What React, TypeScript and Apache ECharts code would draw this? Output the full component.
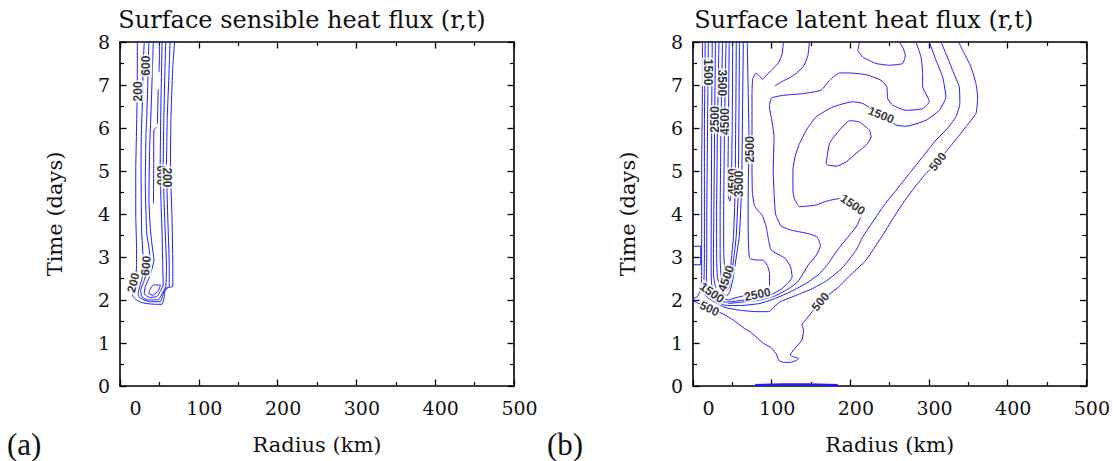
import React, { useEffect, useRef } from "react";
import * as echarts from "echarts";

// ---------- Axis ticks ----------
const xTicks = [0, 100, 200, 300, 400, 500];
const yTicks = [0, 1, 2, 3, 4, 5, 6, 7, 8];

// ---------- Panel (a): surface sensible heat flux contours [r (km), t (days)] ----------
const a200 = [[22,8],[22,7.5],[22,7],[21,6],[20,5],[20,4],[21,3.2],[21,2.8],[19,2.4],[16,2.1],[19.5,2.02],[26,1.95],[33,1.92],[45,1.9],[53.4,1.9],[55.7,2.04],[58,2.27],[67,2.32],[67,2.77],[66,3.93],[64,5.1],[64.7,6.26],[67,7.42],[69.3,8]];
const a400 = [[30.8,8],[29.5,7.5],[28.5,6.65],[27,5.8],[26.7,5.1],[27,4.3],[27.6,3.55],[29.9,2.77],[28,2.5],[24.9,2.31],[23,2.15],[25,2.06],[28.5,2.02],[37.6,1.96],[51,1.96],[53.4,2.05],[55.7,2.19],[60,2.27],[62.5,2.32],[62.5,2.77],[60.6,3.93],[59,5.1],[60,6.26],[62.5,7.42],[63.5,8]];
const a600 = [[36.7,8],[35.8,7.5],[35.3,7.03],[34,6.3],[33,5.87],[32.1,4.71],[33,4.0],[33.9,3.55],[37.6,3.08],[35,2.75],[30.8,2.46],[26.3,2.23],[27.6,2.08],[35.3,2.0],[48.9,2.01],[53.4,2.15],[58,2.31],[59,2.77],[56.6,3.93],[54.8,5.1],[55.7,6.26],[57.1,7.42],[58,8]];
const a800 = [[42.2,8],[41,7.3],[39.9,6.65],[37.6,5.5],[36.7,4.32],[38,3.8],[39.9,3.39],[43,2.93],[37.6,2.54],[32,2.31],[30.8,2.15],[33,2.1],[37.6,2.06],[46.6,2.08],[52,2.23],[54.8,2.35],[54,3],[53.4,3.55],[52,4.3],[51,5.1],[51.5,6],[52,6.65],[53.4,8]];
const a1000Core = [[37.6,2.23],[42.2,2.35],[51.3,2.35],[49,2.23],[42.2,2.11],[36.7,2.15],[37.6,2.23]];
const a1000Top = [[50,8],[50,7.6],[49.5,7.3]];
const a1000Mid = [[48.5,6.9],[48,6.5],[47.5,6.1]];
const a1000Low = [[46,6.02],[43,5.95],[42.8,5.2],[42.5,4.25]];

// contour labels: [r, t, text, angle]
const aLabels = [
  [22.5, 6.85, "200", 90],
  [33.3, 7.45, "600", 90],
  [52.5, 4.9, "600", -90],
  [59.5, 4.85, "200", -90],
  [17, 2.4, "200", 75],
  [33, 2.8, "600", 85],
];

// ---------- Panel (b): surface latent heat flux contours ----------
const b500Left = [[12,8],[12,7],[11.5,6],[11,5],[11,4],[11,3.4],[11,2.5],[9,2.2],[5,2.07],[0,2.03]];
const b500 = [[0,1.98],[6,1.93],[14,1.86],[21,1.8],[30,1.73],[36.8,1.69],[51.7,1.53],[63.6,1.36],[72.8,1.26],[89.7,0.99],[100.3,0.88],[106.6,0.72],[108.8,0.6],[115,0.55],[123.6,0.55],[132,0.6],[134,0.64],[127.8,0.68],[123.6,0.72],[127.8,0.84],[138.4,1.07],[140.5,1.3],[138.4,1.42],[144.7,1.57],[153.2,1.77],[161.6,1.96],[174.3,2.15],[185,2.3],[197.9,2.54],[210,2.75],[220,2.93],[230,3.2],[242.6,3.55],[256,3.95],[269.5,4.32],[283,4.65],[296,4.94],[311,5.2],[323,5.48],[335,5.75],[347,6.03],[359.7,6.34],[361.8,6.72],[359.7,7.03],[353.3,7.42],[342.7,7.81],[337.6,8]];
const b1000 = [[15.5,8],[15,7],[14.5,6],[14.5,5],[14.5,4],[14.5,3],[14,2.5],[13,2.25],[16,2.1],[25,1.98],[35,1.88],[42,1.82],[60,1.76],[80,1.73],[97,1.73],[101,1.8],[110,1.95],[130,2.1],[150,2.25],[170,2.45],[190,2.75],[207.3,3.16],[215.8,3.47],[224.2,3.7],[241.2,4.16],[258,4.55],[275,4.94],[291.9,5.33],[308.8,5.72],[321.5,5.95],[334.2,6.26],[339.2,6.57],[338.4,6.96],[330,7.34],[321.5,7.73],[315.2,8]];
const b1500 = [[19.5,8],[19,7],[18.5,6],[18,5],[17.5,4],[17.5,3],[17,2.5],[17,2.3],[20,2.12],[28,2],[40,1.88],[60,1.87],[85,1.92],[105,2.04],[125,2.2],[145,2.4],[160,2.6],[172,2.85],[182,3.12],[190.4,3.32],[207.3,3.7],[213.6,3.97],[208,4.12],[203,4.2],[186.2,4.36],[170,4.3],[156.6,4.21],[135.4,4.17],[129,4.35],[127,4.55],[127,5.02],[130,5.35],[135.4,5.64],[145,5.98],[156.6,6.26],[177.7,6.49],[203,6.61],[215.8,6.57],[239,6.3],[258,6.07],[270.8,6.04],[296.2,6.18],[313,6.41],[321.5,6.72],[317.3,7.19],[308.8,7.58],[300.4,8]];
const b1500Valley = [[283.4,8],[289.8,7.65],[291.9,7.27],[291.9,6.96],[298.3,6.72],[300.4,6.61],[291.9,6.45],[270.8,6.41],[253.9,6.53],[247.5,6.68],[246.3,6.96],[239,7.11],[220,7.24],[198.9,7.28],[186.2,7.28],[173.5,7.11],[162.9,6.88],[140,6.8],[115,6.76],[100,6.7],[97,6.5],[100,6.2],[103,5.8],[102,5],[103,4.5],[105,4],[112,3.72],[126,3.62],[145,3.55],[157.6,3.47],[162,3.27],[157,3.05],[148,2.85],[140,2.62],[133,2.42],[122,2.27],[105,2.1],[85,2],[62,1.95],[45,1.92]];
const b1500Upper = [[148,8],[146,7.68],[141,7.45],[133,7.3],[124,7.18],[113,7.08],[104,6.98]];
const b2000 = [[24.5,8],[24,7],[23.5,5],[23,3],[23.5,2.4],[26,2.2],[32,2.03],[40,1.95],[48,1.96],[65,2],[85,2.05],[100,2.13],[112,2.25],[122,2.42],[126,2.54],[124,2.77],[117,2.97],[99.4,3.16],[96,3.4],[93,3.7],[88,3.97],[81.5,4.1],[78,4.2],[75.5,4.5],[75,5],[75,6],[75,6.8],[76,7.15],[80,7.27],[84,7.22],[88,7.13],[92,7.2],[100,7.35],[108,7.5],[113,7.7],[115,8]];
const b2000Loop = [[169.2,5.17],[173.5,5.64],[186.2,5.95],[198.9,6.17],[211.6,6.14],[224.2,5.95],[226.4,5.79],[220,5.6],[207.3,5.41],[194.6,5.21],[182,5.11],[171.4,5.14],[169.2,5.17]];
const b2000Top = [[211.6,8],[209.5,7.81],[215.8,7.65],[232.7,7.5],[249.6,7.46],[266.5,7.5],[269.9,7.69],[266.5,7.88],[262.3,8]];
const b2500 = [[28.5,8],[28,7],[27.5,6.2],[27,5],[26.5,4],[26,3],[26,2.6],[28,2.35],[33,2.15],[40,2.03],[45,2],[52,2.04],[65,2.1],[82,2.14],[92,2.2],[97.3,2.31],[97.3,2.62],[95,2.78],[89,2.93],[80,2.93],[72,2.97],[70.5,3.3],[70,4],[70.5,5],[71.5,5.5],[71,6],[70,7],[69,8]];
const b3000 = [[33,8],[32,7],[31,6],[30.5,5],[30,4],[30,3],[31,2.55],[34,2.3],[39,2.14],[43,2.1],[47,2.2],[51,2.5],[55,3],[59,3.5],[61.5,4.5],[62.5,5.5],[63,6.5],[64,8]];
const b3500 = [[37.5,8],[36.5,7],[35.5,6],[35,5],[34.5,4],[34.5,3],[35.5,2.6],[39,2.32],[43,2.22],[46,2.3],[49,2.6],[52,3],[55,3.5],[57.5,4.5],[58,5.5],[58.5,6.5],[59,8]];
const b4000 = [[42,8],[41,7],[40,6],[39.5,5],[39,4],[39,3.2],[40,2.8],[42.5,2.5],[45,2.45],[47,2.6],[49,3],[51.5,3.5],[53.5,4.5],[54,5.5],[54.5,6.5],[55,8]];
const b4500 = [[46,8],[45.5,7],[45,6],[44.5,5],[45,4.4],[47,4.3],[48.5,4.5],[49.5,5.5],[50,6.5],[50.5,8]];
const bBox = [[0,3.25],[9.8,3.25],[9.8,2.82],[0,2.82]];
const bFloor = [[79,0.02],[100,0.035],[130,0.04],[160,0.035],[184,0.02]];

const bLabels = [
  [19, 7.3, "1500", -90],
  [37, 7.05, "3500", -90],
  [27.5, 6.2, "2500", 90],
  [41, 6.15, "4500", 90],
  [51, 4.75, "4500", 90],
  [59, 4.7, "3500", 90],
  [72, 5.5, "2500", 90],
  [24, 2.17, "1500", -35],
  [42, 2.5, "4500", 70],
  [21, 1.8, "500", -25],
  [82, 2.13, "2500", 12],
  [162, 1.96, "500", 50],
  [203, 4.22, "1500", -35],
  [239, 6.3, "1500", -22],
  [311, 5.22, "500", 52],
];

const titles = ["Surface sensible heat flux (r,t)", "Surface latent heat flux (r,t)"];
const panelTags = ["(a)", "(b)"];

const panelALines = [a200, a400, a600, a800, a1000Core, a1000Top, a1000Mid, a1000Low];
const panelBLines = [b500Left, b500, b1000, b1500, b1500Valley, b1500Upper, b2000, b2000Loop, b2000Top, b2500, b3000, b3500, b4000, b4500];

const SERIF = "DejaVu Serif";
const TAGSERIF = "Liberation Serif";
const SANS = "Liberation Sans";
const BLUE = "#1c1cff";

function lineSeries(data: number[][], axis: number, opts: any = {}) {
  return {
    type: "line",
    xAxisIndex: axis,
    yAxisIndex: axis,
    data,
    symbol: "none",
    showSymbol: false,
    smooth: opts.smooth ?? 0.15,
    silent: true,
    z: 2,
    lineStyle: { color: BLUE, width: opts.width ?? 1 },
  };
}

function labelSeries(labels: any[], axis: number) {
  return {
    type: "scatter",
    xAxisIndex: axis,
    yAxisIndex: axis,
    symbolSize: 1,
    silent: true,
    z: 5,
    itemStyle: { color: "rgba(0,0,0,0)" },
    label: {
      show: true,
      position: "inside",
      fontFamily: SANS,
      fontSize: 12,
      fontWeight: "bold",
      color: "#000",
      backgroundColor: "#fff",
      padding: [0, 1],
    },
    labelLayout: { hideOverlap: false },
    data: labels.map(([r, t, txt, rot]) => ({
      value: [r, t],
      label: { show: true, formatter: txt, rotate: rot },
    })),
  };
}

function xAxes(grid: number, title: string, shift: number) {
  const common = {
    type: "value",
    gridIndex: grid,
    min: xTicks[0],
    max: xTicks[xTicks.length - 1],
    interval: xTicks[1] - xTicks[0],
    splitLine: { show: false },
    axisLine: { show: true, onZero: false, lineStyle: { color: "#000", width: 1.6 } },
    axisTick: { show: true, inside: true, length: 6.5, lineStyle: { color: "#000", width: 1.3 } },
    minorTick: { show: true, splitNumber: 2, length: 4, lineStyle: { color: "#000", width: 1.2 } },
  };
  return [
    {
      ...common,
      position: "bottom",
      name: "Radius (km)",
      nameLocation: "middle",
      nameGap: 48,
      nameTextStyle: { fontFamily: SERIF, fontSize: 21, color: "#111" },
      axisLabel: {
        margin: 12,
        color: "#111",
        fontFamily: SERIF,
        fontSize: 19,
        formatter: (v: number) => (v === 0 ? "{z|0}" : "{n|" + v + "}"),
        rich: {
          z: { fontFamily: SERIF, fontSize: 19, color: "#111", padding: [0, 0, 0, 31] },
          n: { fontFamily: SERIF, fontSize: 19, color: "#111", padding: [0, 0, 0, 11] },
        },
      },
    },
    {
      ...common,
      position: "top",
      axisLabel: { show: false },
      name: title,
      nameLocation: "middle",
      nameGap: 10,
      nameTextStyle: { fontFamily: SERIF, fontSize: 24, color: "#111", padding: [0, shift, 0, 0] },
    },
  ];
}

function yAxes(grid: number) {
  const common = {
    type: "value",
    gridIndex: grid,
    min: yTicks[0],
    max: yTicks[yTicks.length - 1],
    interval: yTicks[1] - yTicks[0],
    splitLine: { show: false },
    axisLine: { show: true, onZero: false, lineStyle: { color: "#000", width: 1.6 } },
    axisTick: { show: true, inside: true, length: 6.5, lineStyle: { color: "#000", width: 1.3 } },
    minorTick: { show: true, splitNumber: 2, length: 4, lineStyle: { color: "#000", width: 1.2 } },
  };
  return [
    {
      ...common,
      position: "left",
      name: "Time (days)",
      nameLocation: "middle",
      nameGap: 55,
      nameRotate: 90,
      nameTextStyle: { fontFamily: SERIF, fontSize: 21, color: "#111" },
      axisLabel: { margin: 10, color: "#111", fontFamily: SERIF, fontSize: 19 },
    },
    { ...common, position: "right", axisLabel: { show: false } },
  ];
}

function tagOpt(text: string, left: number) {
  return {
    text,
    left,
    top: 429,
    padding: 0,
    textStyle: { fontFamily: TAGSERIF, fontSize: 31, fontWeight: "normal", color: "#111" },
  };
}

export default function App() {
  const ref = useRef<HTMLDivElement>(null);
  useEffect(() => {
    document.body.style.margin = "0";
    if (!ref.current) return;
    const chart = echarts.init(ref.current, undefined, { renderer: "svg" });
    const series: any[] = [];
    panelALines.forEach((d) => series.push(lineSeries(d, 0)));
    panelBLines.forEach((d) => series.push(lineSeries(d, 2)));
    series.push(lineSeries(bBox, 2, { smooth: false }));
    series.push(lineSeries(bFloor, 2, { width: 2.2 }));
    series.push(labelSeries(aLabels, 0));
    series.push(labelSeries(bLabels, 2));

    chart.setOption({
      animation: false,
      backgroundColor: "#fff",
      title: [tagOpt(panelTags[0], 7), tagOpt(panelTags[1], 547)],
      grid: [
        { left: 120, top: 42, width: 394, height: 344 },
        { left: 693, top: 42, width: 394, height: 344 },
      ],
      xAxis: [...xAxes(0, titles[0], 30), ...xAxes(1, titles[1], 52)],
      yAxis: [...yAxes(0), ...yAxes(1)],
      series,
    });
    return () => chart.dispose();
  }, []);
  return <div ref={ref} style={{ position: "absolute", left: 0, top: 0, width: 1113, height: 461 }} />;
}
